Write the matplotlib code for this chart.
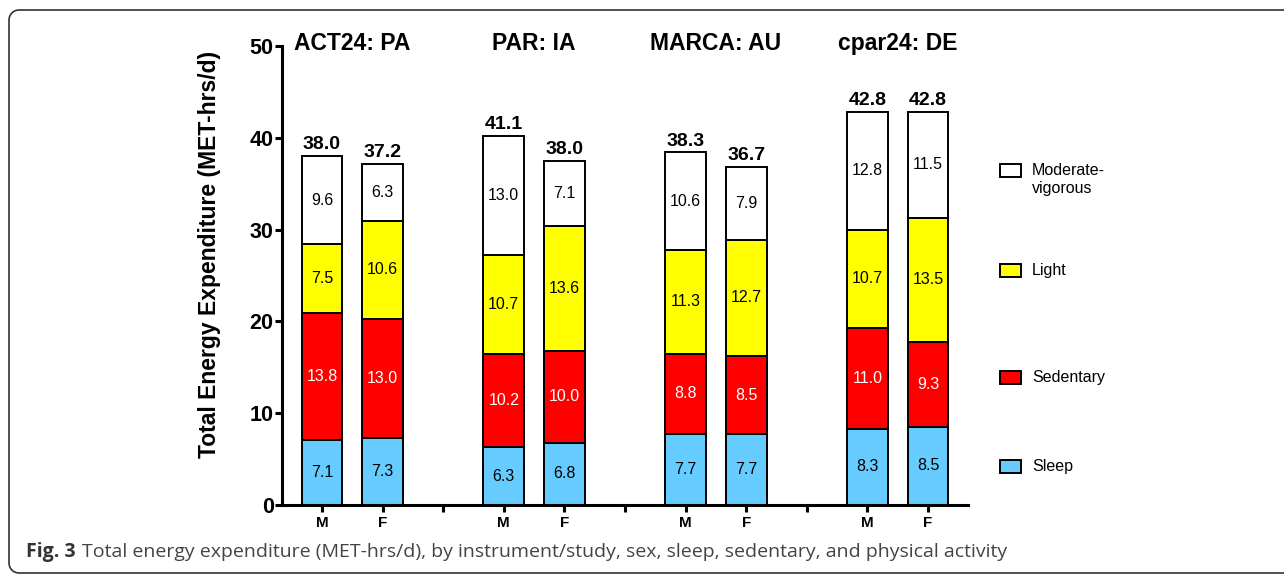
import numpy as np
import matplotlib.pyplot as plt
from matplotlib.patches import Rectangle, PathPatch
from matplotlib.path import Path
from matplotlib.transforms import IdentityTransform

plt.rcParams['font.family'] = ['Liberation Sans', 'DejaVu Sans']

# Data: bars ordered ACT24 M/F, PAR M/F, MARCA M/F, cpar24 M/F
studies = ['ACT24: PA', 'PAR: IA', 'MARCA: AU', 'cpar24: DE']
sexes = ['M', 'F']
categories = ['Sleep', 'Sedentary', 'Light', 'Moderate-\nvigorous']
sleep = [7.1, 7.3, 6.3, 6.8, 7.7, 7.7, 8.3, 8.5]
sedentary = [13.8, 13.0, 10.2, 10.0, 8.8, 8.5, 11.0, 9.3]
light = [7.5, 10.6, 10.7, 13.6, 11.3, 12.7, 10.7, 13.5]
mvpa = [9.6, 6.3, 13.0, 7.1, 10.6, 7.9, 12.8, 11.5]
totals = [38.0, 37.2, 41.1, 38.0, 38.3, 36.7, 42.8, 42.8]

colors = ['#66ccff', '#ff0000', '#ffff00', '#ffffff']
text_colors = ['black', 'white', 'black', 'black']

W, H = 1284, 576
fig = plt.figure(figsize=(W / 100, H / 100), dpi=100)

def fx(px):
    return px / W

def fy(py):
    return 1 - py / H

# open frame: top, left and bottom edges with rounded left corners,
# continuing past the right edge of the image (pixel coords, y up)
r = 10
left, top, bot = 9, H - 10, H - 573
t1 = np.linspace(np.pi / 2, np.pi, 12)
t2 = np.linspace(np.pi, 1.5 * np.pi, 12)
pts = [(W + 20, top)]
pts += [(left + r + r * np.cos(t), top - r + r * np.sin(t)) for t in t1]
pts += [(left + r + r * np.cos(t), bot + r + r * np.sin(t)) for t in t2]
pts += [(W + 20, bot)]
fig.add_artist(PathPatch(Path(pts), transform=IdentityTransform(),
                         facecolor='none', edgecolor='#333333', linewidth=1.2))

ax = fig.add_axes([fx(282), fy(505), (968 - 282) / W, (505 - 46) / H])

x = [g * 3 + s for g in range(len(studies)) for s in range(len(sexes))]
bottom = [0.0] * len(x)
series = [sleep, sedentary, light, mvpa]
last = None
for vals, c, tc in zip(series, colors, text_colors):
    bars = ax.bar(x, vals, width=0.67, bottom=bottom, color=c,
                  edgecolor='black', linewidth=1.4)
    ax.bar_label(bars, labels=[f'{v:.1f}' for v in vals], label_type='center',
                 color=tc, fontsize=11.5)
    bottom = [b + v for b, v in zip(bottom, vals)]
    last = bars
ax.bar_label(last, labels=[f'{t:.1f}' for t in totals], padding=2,
             fontsize=14, fontweight='bold')

# study titles above each pair
for g, name in enumerate(studies):
    ax.text(g * 3 + 0.5, 50.25, name, ha='center', va='center',
            fontsize=16.5, fontweight='bold')

ax.set_xlim(-0.66, 10.66)
ax.set_ylim(0, 50)
ax.set_yticks(range(0, 51, 10))
ax.set_xticks(x)
ax.set_xticklabels(sexes * len(studies), fontweight='bold', fontsize=11)
ax.set_xticks([2, 5, 8], minor=True)
for s in ['top', 'right']:
    ax.spines[s].set_visible(False)
for s in ['left', 'bottom']:
    ax.spines[s].set_linewidth(2.2)
ax.tick_params(axis='both', which='both', width=2.2, length=5)
ax.tick_params(axis='y', labelsize=15.5, pad=1)
ax.tick_params(axis='x', pad=3)
for t in ax.get_yticklabels():
    t.set_fontweight('bold')
ax.set_ylabel('Total Energy Expenditure (MET-hrs/d)', fontsize=16.5,
              fontweight='bold')
ax.yaxis.set_label_coords(-0.089, 0.545)

# legend drawn as separate swatches, spaced like the reference
leg_y = [460, 371, 264, 164]
for cat, c, py in zip(categories, colors, leg_y):
    fig.add_artist(Rectangle((fx(1000), fy(py + 13)), 21 / W, 13 / H,
                             transform=fig.transFigure, facecolor=c,
                             edgecolor='black', linewidth=1.4))
    fig.text(fx(1032), fy(py - 1), cat, ha='left', va='top', fontsize=11.5,
             linespacing=1.25)

# caption
cap = fig.text(fx(26), fy(552), 'Fig. 3', family='Open Sans', fontweight='bold',
               fontsize=14, color='#333333', va='center')
fig.canvas.draw()
bb = cap.get_window_extent()
fig.text((bb.x1 + 6) / W, fy(552),
         'Total energy expenditure (MET-hrs/d), by instrument/study, sex, '
         'sleep, sedentary, and physical activity',
         family='Open Sans', fontsize=14, color='#444444', va='center')

fig.savefig('out.png', dpi=100)
